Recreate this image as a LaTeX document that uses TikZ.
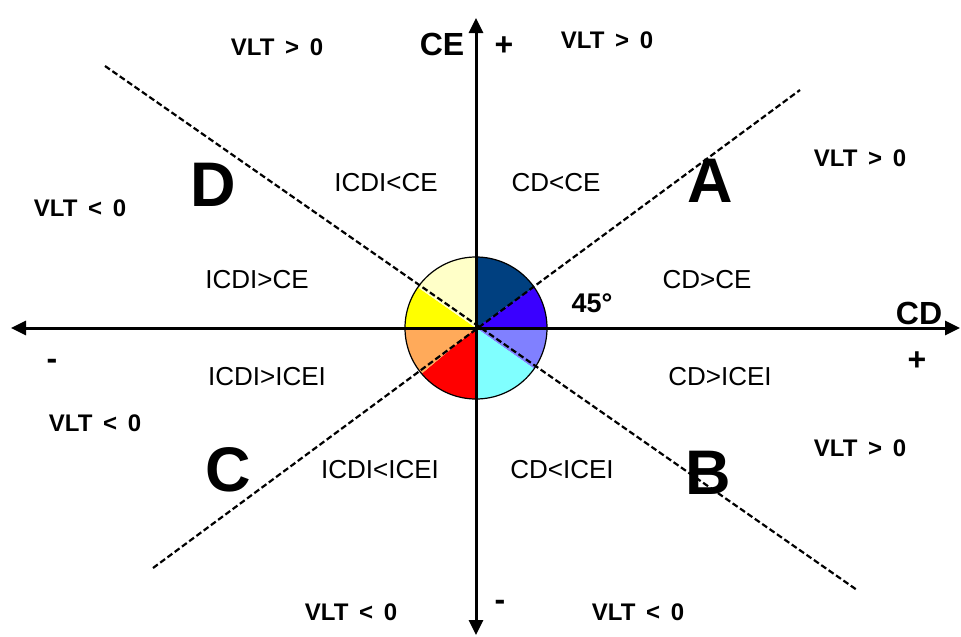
\documentclass[tikz,border=0pt]{standalone}
\usepackage{fontspec}
\setmainfont{Liberation Sans}
\usetikzlibrary{arrows.meta}
\definecolor{wNavy}{HTML}{004080}
\definecolor{wBlue}{HTML}{3A00FF}
\definecolor{wLilac}{HTML}{8080FF}
\definecolor{wCyan}{HTML}{80FFFF}
\definecolor{wRed}{HTML}{FF0000}
\definecolor{wOrange}{HTML}{FFAA5A}
\definecolor{wYellow}{HTML}{FFFF00}
\definecolor{wCream}{HTML}{FFFFC8}

\begin{document}
\begin{tikzpicture}[x=1pt, y=-1pt, inner sep=0pt,
  vlt/.style={font=\bfseries\fontsize{24}{24}\selectfont},
  zone/.style={font=\fontsize{26}{26}\selectfont},
  quad/.style={font=\bfseries\fontsize{63}{63}\selectfont},
  axlab/.style={font=\bfseries\fontsize{32}{32}\selectfont},
  axisline/.style={line width=3pt, {Triangle[length=15pt,width=14pt]}-{Triangle[length=15pt,width=14pt]}},
  diag/.style={line width=2.2pt, dash pattern=on 6pt off 3pt}]
\useasboundingbox[fill=white] (0,0) rectangle (961,637);
\coordinate (o) at (476,328);
% colour wheel
\foreach \a/\b/\c in {90/35/wNavy, 35/0/wBlue, 0/-35/wLilac, -35/-90/wCyan,
    -90/-140/wRed, -140/-180/wOrange, 180/145/wYellow, 145/90/wCream}
  \fill[\c] (o) -- ++(-\a:71) arc[start angle=-\a, end angle=-\b, radius=71] -- cycle;
\draw[line width=1.2pt] (o) circle[radius=71];
% dashed diagonals
\coordinate (endA) at (800,90);
\coordinate (endC) at (153,568);
\coordinate (endD) at (105,66);
\coordinate (endB) at (857,590);
\draw[diag] (endC) -- (endA);
\draw[diag] (endD) -- (endB);
% axes
\coordinate (ceTop) at (476,18);
\coordinate (ceBot) at (476,635);
\coordinate (cdLeft) at (11,328);
\coordinate (cdRight) at (960,328);
\draw[axisline] (ceBot) -- (ceTop);
\draw[axisline] (cdLeft) -- (cdRight);
% axis labels
\node[axlab] (ceLab) at (442,44) {CE};
\node[axlab] (cePlus) at (504,46) {+};
\node[axlab] (cdLab) at (919,313) {CD};
\node[axlab] (cdPlus) at (917,361) {+};
\node[axlab, anchor=base] (cdMinus) at (52,369) {-};
\node[axlab, anchor=base] (ceMinus) at (500,610) {-};
\node[font=\bfseries\fontsize{27}{27}\selectfont] (angle) at (592,303) {45°};
% quadrant letters
\node[quad] (qA) at (710,181) {A};
\node[quad] (qB) at (708,473) {B};
\node[quad] (qC) at (228,470) {C};
\node[quad] (qD) at (213,185) {D};
% zones
\node[zone] (z1) at (556,183) {CD<CE};
\node[zone] (z2) at (386,183) {ICDI<CE};
\node[zone] (z3) at (257,280) {ICDI>CE};
\node[zone] (z4) at (707,280) {CD>CE};
\node[zone] (z5) at (267,377) {ICDI>ICEI};
\node[zone] (z6) at (720,377) {CD>ICEI};
\node[zone] (z7) at (380,470) {ICDI<ICEI};
\node[zone] (z8) at (562,470) {CD<ICEI};
% VLT signs
\node[vlt] (vltNW) at (277,47) {VLT \,>\, 0};
\node[vlt] (vltN) at (607,40) {VLT \,>\, 0};
\node[vlt] (vltNE) at (860,158) {VLT \,>\, 0};
\node[vlt] (vltW) at (80,208) {VLT \,<\, 0};
\node[vlt] (vltSW) at (95,423) {VLT \,<\, 0};
\node[vlt] (vltSE) at (860,448) {VLT \,>\, 0};
\node[vlt] (vltS1) at (351,612) {VLT \,<\, 0};
\node[vlt] (vltS2) at (638,612) {VLT \,<\, 0};
\end{tikzpicture}
\end{document}
